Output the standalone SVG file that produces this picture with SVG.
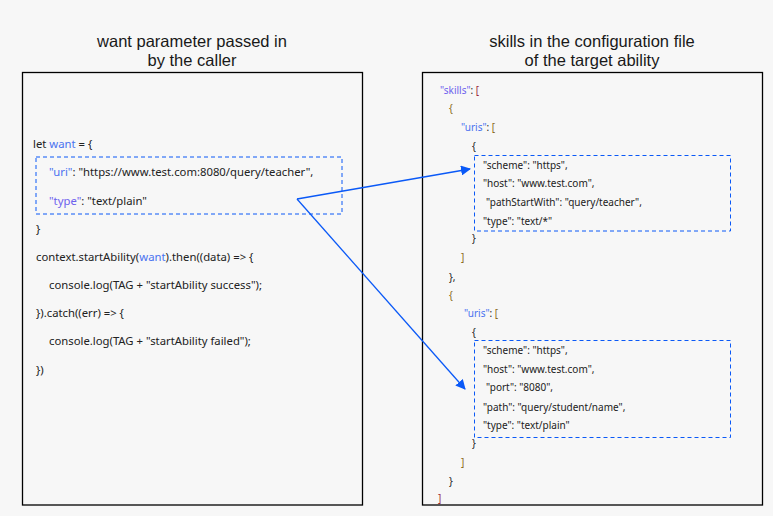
<svg xmlns="http://www.w3.org/2000/svg" width="773" height="516" viewBox="0 0 773 516">
<defs>
<style>
.title{font-family:"Liberation Sans",Arial,sans-serif;font-size:16.5px;fill:#191919;text-anchor:middle}
.code{font-family:"Noto Sans","Liberation Sans",sans-serif;font-size:11.3px;fill:#222}
.cfg{font-family:"Noto Sans","Liberation Sans",sans-serif;font-size:10px;fill:#222}
.box{fill:none;stroke:#000;stroke-width:1.3}
.dash{fill:none;stroke:#0a59f7;stroke-width:1;stroke-dasharray:4 3}
.key{fill:#4a72f0}
.key2{fill:#6e62ee}
.br1{fill:#9c2a3c}
.br2{fill:#8a6a22}
.conn{stroke:#0a59f7;stroke-width:1.3;fill:none}
</style>
<marker id="ah" viewBox="0 0 10 10" refX="9" refY="5" markerWidth="10" markerHeight="10" markerUnits="userSpaceOnUse" orient="auto">
<path d="M0,0 L10,5 L0,10 z" fill="#0a59f7"/>
</marker>
</defs>
<rect x="0" y="0" width="773" height="516" fill="#f7f7f7"/>

<g id="caller">
<text class="title" x="192" y="46.5">want parameter passed in</text>
<text class="title" x="192" y="66">by the caller</text>
<rect class="box" x="22.5" y="72.5" width="340" height="432.5"/>
<text class="code" x="33" y="148">let <tspan class="key">want</tspan> = {</text>
<rect class="dash" x="36" y="157" width="306" height="57"/>
<text class="code" x="49" y="176"><tspan class="key">"uri"</tspan>: "https://www.test.com:8080/query/teacher",</text>
<text class="code" x="49" y="205"><tspan class="key2">"type"</tspan>: "text/plain"</text>
<text class="code" x="36" y="233">}</text>
<text class="code" x="36" y="261">context.startAbility(<tspan class="key">want</tspan>).then((data) =&gt; {</text>
<text class="code" x="49" y="289">console.log(TAG + "startAbility success");</text>
<text class="code" x="36" y="317">}).catch((err) =&gt; {</text>
<text class="code" x="49" y="345">console.log(TAG + "startAbility failed");</text>
<text class="code" x="36" y="374">})</text>
</g>

<g id="target">
<text class="title" x="592" y="46.5">skills in the configuration file</text>
<text class="title" x="592" y="66">of the target ability</text>
<rect class="box" x="422.5" y="72.5" width="340" height="432.5"/>
<text class="cfg" x="440" y="94"><tspan class="key2">"skills"</tspan>: <tspan class="br1">[</tspan></text>
<text class="cfg" x="449" y="112"><tspan class="br2">{</tspan></text>
<text class="cfg" x="461" y="131"><tspan class="key">"uris"</tspan>: <tspan class="br2">[</tspan></text>
<text class="cfg" x="472" y="150">{</text>
<rect class="dash" x="474.5" y="155.5" width="256" height="75.5"/>
<text class="cfg" x="483" y="169">"scheme": "https",</text>
<text class="cfg" x="483" y="187">"host": "www.test.com",</text>
<text class="cfg" x="486" y="205.5">"pathStartWith": "query/teacher",</text>
<text class="cfg" x="483" y="224.5">"type": "text/*"</text>
<text class="cfg" x="472" y="242">}</text>
<text class="cfg" x="461" y="261"><tspan class="br2">]</tspan></text>
<text class="cfg" x="449" y="280.5">},</text>
<text class="cfg" x="449" y="299"><tspan class="br2">{</tspan></text>
<text class="cfg" x="464" y="317"><tspan class="key">"uris"</tspan>: <tspan class="br2">[</tspan></text>
<text class="cfg" x="472" y="335.5">{</text>
<rect class="dash" x="474.5" y="340.5" width="256" height="97"/>
<text class="cfg" x="483" y="354">"scheme": "https",</text>
<text class="cfg" x="483" y="373">"host": "www.test.com",</text>
<text class="cfg" x="486" y="391">"port": "8080",</text>
<text class="cfg" x="483" y="410.5">"path": "query/student/name",</text>
<text class="cfg" x="483" y="429">"type": "text/plain"</text>
<text class="cfg" x="472" y="446.5">}</text>
<text class="cfg" x="461" y="465.5"><tspan class="br2">]</tspan></text>
<text class="cfg" x="449" y="484.5">}</text>
<text class="cfg" x="438" y="502"><tspan class="br1">]</tspan></text>
</g>

<g id="connectors">
<path class="conn" d="M297,199 L470,169" marker-end="url(#ah)"/>
<path class="conn" d="M297,199 L465,389" marker-end="url(#ah)" stroke-width="1.1"/>
</g>
</svg>
